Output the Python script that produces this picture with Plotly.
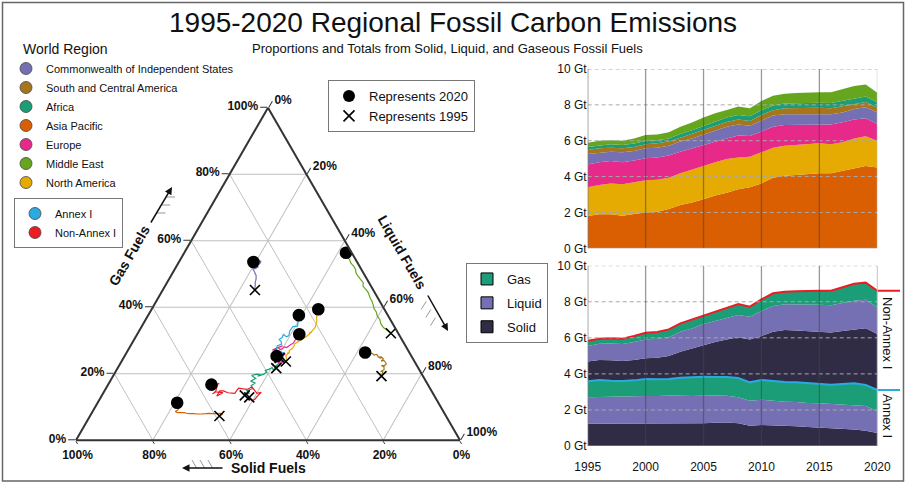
import numpy as np
import plotly.graph_objects as go

W, H = 906, 486
years = list(range(1995, 2021))

# ---- Regional fossil carbon emissions (GtC / yr), stacked bottom to top ----
asia_pacific = [1.80, 1.90, 1.90, 1.82, 1.91, 2.00, 2.04, 2.19, 2.42, 2.55, 2.73, 2.94, 3.10,
                3.29, 3.40, 3.62, 3.94, 4.05, 4.09, 4.14, 4.18, 4.18, 4.31, 4.46, 4.59, 4.50]
north_america = [1.60, 1.63, 1.71, 1.75, 1.77, 1.79, 1.79, 1.75, 1.76, 1.82, 1.86, 1.86, 1.88,
                 1.78, 1.71, 1.73, 1.67, 1.67, 1.67, 1.70, 1.68, 1.62, 1.60, 1.67, 1.66, 1.50]
europe = [1.28, 1.27, 1.26, 1.23, 1.21, 1.23, 1.23, 1.23, 1.21, 1.21, 1.17, 1.18, 1.15,
          1.22, 1.15, 1.16, 1.17, 1.16, 1.12, 1.07, 1.05, 1.11, 1.12, 1.06, 1.00, 0.93]
cis = [0.58, 0.53, 0.52, 0.55, 0.54, 0.56, 0.55, 0.55, 0.56, 0.55, 0.60, 0.60, 0.65,
       0.61, 0.58, 0.61, 0.62, 0.59, 0.59, 0.58, 0.58, 0.56, 0.55, 0.58, 0.61, 0.65]
south_central_america = [0.22, 0.25, 0.22, 0.23, 0.22, 0.22, 0.25, 0.23, 0.22, 0.25, 0.24, 0.24, 0.26,
                         0.28, 0.26, 0.31, 0.30, 0.34, 0.36, 0.35, 0.35, 0.34, 0.34, 0.30, 0.30, 0.26]
africa = [0.17, 0.16, 0.19, 0.18, 0.19, 0.18, 0.16, 0.18, 0.21, 0.20, 0.22, 0.22, 0.25,
          0.26, 0.26, 0.27, 0.26, 0.26, 0.26, 0.28, 0.28, 0.29, 0.30, 0.29, 0.30, 0.30]
middle_east = [0.24, 0.26, 0.22, 0.24, 0.29, 0.34, 0.32, 0.34, 0.40, 0.43, 0.47, 0.49, 0.42,
               0.47, 0.45, 0.52, 0.55, 0.55, 0.57, 0.58, 0.58, 0.60, 0.66, 0.69, 0.67, 0.54]

# ---- Annex I / Non-Annex I emissions by fuel (GtC / yr) ----
annex_solid = [1.24, 1.24, 1.22, 1.22, 1.22, 1.26, 1.24, 1.24, 1.26, 1.26, 1.26, 1.29, 1.31,
               1.26, 1.13, 1.16, 1.15, 1.11, 1.09, 1.05, 1.02, 0.98, 0.96, 0.92, 0.85, 0.72]
annex_liquid = [1.46, 1.48, 1.50, 1.50, 1.52, 1.51, 1.53, 1.53, 1.55, 1.57, 1.57, 1.52, 1.48,
                1.44, 1.38, 1.41, 1.36, 1.35, 1.35, 1.33, 1.35, 1.35, 1.35, 1.37, 1.37, 1.22]
annex_gas = [0.89, 0.94, 0.90, 0.88, 0.90, 0.95, 0.93, 0.95, 0.98, 1.00, 1.01, 1.02, 1.04,
             1.07, 1.02, 1.09, 1.09, 1.09, 1.09, 1.11, 1.07, 1.07, 1.13, 1.19, 1.16, 1.17]
nonannex_solid = [1.09, 1.11, 1.13, 1.11, 1.13, 1.14, 1.20, 1.27, 1.44, 1.59, 1.76, 1.94, 2.08,
                  2.26, 2.38, 2.44, 2.74, 2.88, 2.87, 2.89, 2.90, 2.90, 2.94, 2.99, 3.15, 3.10]
nonannex_liquid = [0.87, 0.90, 0.94, 0.95, 1.00, 1.05, 1.05, 1.04, 1.11, 1.10, 1.17, 1.18, 1.19,
                   1.23, 1.26, 1.39, 1.42, 1.43, 1.46, 1.48, 1.50, 1.50, 1.53, 1.59, 1.58, 1.48]
nonannex_gas = [0.29, 0.28, 0.28, 0.29, 0.33, 0.37, 0.37, 0.44, 0.46, 0.50, 0.48, 0.52, 0.57,
                0.61, 0.56, 0.64, 0.71, 0.70, 0.72, 0.75, 0.77, 0.81, 0.91, 0.94, 0.95, 0.92]

# ---- Regional fuel shares (% gas, % liquid; solid is the remainder) ----
share_gas = {
    "Commonwealth of Independent States": [45.2, 46.0, 46.8, 47.5, 48.0, 48.6, 49.2, 49.6, 50.1, 50.5, 50.9, 51.2, 51.5,
                                           51.6, 52.2, 52.4, 52.7, 52.9, 53.3, 53.6, 53.9, 53.5, 53.8, 54.0, 53.8, 53.6],
    "South and Central America": [19.3, 20.0, 20.8, 20.6, 21.3, 22.0, 22.5, 22.4, 23.0, 23.4, 24.0, 23.8, 24.5,
                                  24.9, 24.6, 25.1, 25.0, 25.4, 25.8, 25.6, 25.9, 26.1, 25.9, 26.2, 26.5, 26.4],
    "Africa": [13.5, 14.2, 14.9, 15.5, 16.4, 17.2, 17.8, 18.6, 19.5, 19.9, 19.6, 19.3, 19.8,
               20.5, 21.0, 21.4, 21.8, 21.2, 22.3, 22.0, 23.3, 23.8, 24.0, 24.6, 25.0, 25.3],
    "Asia Pacific": [7.3, 7.6, 7.9, 8.1, 8.0, 8.0, 8.1, 8.0, 7.9, 7.9, 8.0, 8.0, 8.1,
                     8.2, 8.3, 8.3, 8.3, 8.4, 8.5, 8.7, 9.0, 9.4, 9.8, 10.3, 10.9, 11.3],
    "Europe": [21.7, 22.5, 23.8, 23.4, 24.2, 24.9, 25.3, 25.9, 26.0, 26.4, 27.0, 27.4, 27.1,
               27.8, 28.4, 27.9, 27.3, 27.6, 28.1, 27.9, 28.4, 28.9, 29.1, 29.6, 30.9, 31.9],
    "Middle East": [32.2, 33.0, 33.9, 35.0, 36.4, 37.3, 37.9, 38.6, 39.6, 40.5, 41.9, 42.8, 44.4,
                    45.2, 46.3, 47.4, 48.3, 49.6, 50.4, 51.4, 52.3, 53.3, 54.3, 55.1, 55.8, 56.4],
    "North America": [23.7, 24.4, 24.9, 25.3, 26.0, 26.4, 26.0, 26.6, 27.0, 27.3, 27.6, 28.4, 28.9,
                      29.4, 30.1, 30.4, 31.2, 32.6, 32.2, 32.6, 34.0, 35.2, 35.6, 36.9, 38.1, 39.4],
}
share_liquid = {
    "Commonwealth of Independent States": [24.0, 23.6, 23.3, 22.9, 22.8, 22.6, 22.3, 22.1, 21.6, 21.3, 20.9, 20.6, 20.3,
                                           20.9, 21.4, 20.8, 20.3, 21.1, 21.3, 20.7, 20.9, 21.4, 21.2, 20.4, 19.8, 19.4],
    "South and Central America": [69.9, 69.8, 69.5, 69.0, 69.6, 69.2, 68.3, 69.1, 69.3, 68.9, 68.2, 67.6, 67.8,
                                  67.2, 66.8, 67.0, 66.2, 65.9, 65.4, 64.8, 64.5, 64.0, 63.5, 63.0, 62.6, 62.1],
    "Africa": [37.2, 38.0, 37.0, 38.2, 37.4, 38.1, 36.6, 37.5, 36.0, 37.2, 38.5, 37.6, 38.9,
               39.4, 38.8, 39.6, 40.2, 40.8, 41.5, 40.6, 41.4, 41.0, 40.3, 40.9, 40.2, 39.6],
    "Asia Pacific": [33.7, 34.0, 34.3, 33.6, 32.4, 31.5, 30.6, 29.8, 28.7, 27.6, 26.6, 25.8, 25.0,
                     24.4, 24.2, 23.5, 22.6, 22.1, 21.8, 21.6, 21.9, 22.0, 21.5, 21.2, 21.1, 20.7],
    "Europe": [41.3, 41.8, 42.1, 41.0, 40.6, 40.7, 41.2, 41.5, 40.6, 39.5, 38.9, 38.4, 37.6,
               38.5, 39.6, 38.7, 39.5, 40.0, 40.3, 40.9, 41.3, 41.6, 41.9, 42.0, 42.0, 42.2],
    "Middle East": [65.9, 64.6, 63.1, 61.9, 60.9, 59.8, 59.4, 58.9, 57.8, 57.2, 56.1, 55.2, 53.9,
                    53.0, 51.6, 51.1, 50.0, 48.5, 47.7, 47.1, 46.2, 44.9, 44.1, 43.2, 42.5, 42.1],
    "North America": [42.8, 42.6, 42.3, 42.0, 42.1, 42.0, 42.4, 42.3, 42.0, 42.3, 42.5, 42.6, 42.4,
                      42.8, 43.4, 43.6, 44.4, 45.1, 44.6, 45.0, 45.3, 45.0, 44.9, 44.2, 43.8, 43.4],
}

region_colors = {
    "Commonwealth of Independent States": "#7570B3",
    "South and Central America": "#A6761D",
    "Africa": "#1B9E77",
    "Asia Pacific": "#D95F02",
    "Europe": "#E7298A",
    "Middle East": "#66A61E",
    "North America": "#E6AB02",
}
ANNEX_COLOR = "#29ABE2"
NONANNEX_COLOR = "#ED1C24"
GAS_COLOR, LIQUID_COLOR, SOLID_COLOR = "#1B9E77", "#7570B3", "#302C45"
FONT = "Liberation Sans, Arial, sans-serif"
gt_ticks = [0, 2, 4, 6, 8, 10]
year_ticks = [1995, 2000, 2005, 2010, 2015, 2020]


def px(x):
    return x / W


def py(y):
    return 1 - y / H


fig = go.Figure()

# ---------------- ternary: fuel mix trajectories ----------------
for name in region_colors:
    fig.add_trace(go.Scatterternary(
        a=share_gas[name], c=share_liquid[name], mode="lines",
        line=dict(color=region_colors[name], width=1.2), showlegend=False, hoverinfo="skip"))

fig.add_trace(go.Scatterternary(
    a=annex_gas, b=annex_solid, c=annex_liquid, mode="lines",
    line=dict(color=ANNEX_COLOR, width=1.2), showlegend=False, hoverinfo="skip"))
fig.add_trace(go.Scatterternary(
    a=nonannex_gas, b=nonannex_solid, c=nonannex_liquid, mode="lines",
    line=dict(color=NONANNEX_COLOR, width=1.2), showlegend=False, hoverinfo="skip"))

end_marks = dict(symbol=["x-thin", "circle"], size=[10, 11], color="black", opacity=1,
                 line=dict(color="black", width=1.6))
for name in region_colors:
    g, c = share_gas[name], share_liquid[name]
    fig.add_trace(go.Scatterternary(a=[g[0], g[-1]], c=[c[0], c[-1]], mode="markers",
                                    marker=end_marks, showlegend=False, hoverinfo="skip"))
for g, s, c in [(annex_gas, annex_solid, annex_liquid),
                (nonannex_gas, nonannex_solid, nonannex_liquid)]:
    fig.add_trace(go.Scatterternary(a=[g[0], g[-1]], b=[s[0], s[-1]], c=[c[0], c[-1]],
                                    mode="markers", marker=end_marks, showlegend=False,
                                    hoverinfo="skip"))

# legend entries: world regions, annex groups, year markers
for name, col in region_colors.items():
    fig.add_trace(go.Scatterternary(a=[None], b=[None], c=[None], mode="markers", name=name,
                                    marker=dict(color=col, size=12, line=dict(color="#444", width=0.8)),
                                    legend="legend"))
for name, col in [("Annex I", ANNEX_COLOR), ("Non-Annex I", NONANNEX_COLOR)]:
    fig.add_trace(go.Scatterternary(a=[None], b=[None], c=[None], mode="markers", name=name,
                                    marker=dict(color=col, size=12, line=dict(color="#444", width=0.8)),
                                    legend="legend2"))
fig.add_trace(go.Scatterternary(a=[None], b=[None], c=[None], mode="markers", name="Represents 2020",
                                marker=dict(symbol="circle", size=12, color="black"), legend="legend3"))
fig.add_trace(go.Scatterternary(a=[None], b=[None], c=[None], mode="markers", name="Represents 1995",
                                marker=dict(symbol="x-thin", size=11, color="black",
                                            line=dict(color="black", width=1.6)), legend="legend3"))

# ---------------- top right: regional totals ----------------
stack_order = [("Asia Pacific", asia_pacific), ("North America", north_america), ("Europe", europe),
               ("Commonwealth of Independent States", cis),
               ("South and Central America", south_central_america),
               ("Africa", africa), ("Middle East", middle_east)]
for name, vals in stack_order:
    fig.add_trace(go.Scatter(x=years, y=vals, stackgroup="regions", mode="lines",
                             line=dict(width=0, color=region_colors[name]),
                             fillcolor=region_colors[name], showlegend=False, hoverinfo="skip",
                             xaxis="x", yaxis="y"))

# ---------------- bottom right: Annex I / Non-Annex I by fuel ----------------
for vals, col in [(annex_solid, SOLID_COLOR), (annex_liquid, LIQUID_COLOR), (annex_gas, GAS_COLOR),
                  (nonannex_solid, SOLID_COLOR), (nonannex_liquid, LIQUID_COLOR),
                  (nonannex_gas, GAS_COLOR)]:
    fig.add_trace(go.Scatter(x=years, y=vals, stackgroup="annex", mode="lines",
                             line=dict(width=0, color=col), fillcolor=col, showlegend=False,
                             hoverinfo="skip", xaxis="x2", yaxis="y2"))

lead_end = 2021.96  # leader lines run past 2020 to the group labels
annex_total = list(np.add(np.add(annex_solid, annex_liquid), annex_gas))
world_total = list(np.add(annex_total, np.add(np.add(nonannex_solid, nonannex_liquid), nonannex_gas)))
fig.add_trace(go.Scatter(x=years + [lead_end], y=annex_total + [annex_total[-1]], mode="lines",
                         line=dict(color=ANNEX_COLOR, width=2), showlegend=False, hoverinfo="skip",
                         xaxis="x2", yaxis="y2"))
fig.add_trace(go.Scatter(x=years + [lead_end], y=world_total + [world_total[-1]], mode="lines",
                         line=dict(color=NONANNEX_COLOR, width=2), showlegend=False, hoverinfo="skip",
                         xaxis="x2", yaxis="y2"))

for name, col in [("Gas", GAS_COLOR), ("Liquid", LIQUID_COLOR), ("Solid", SOLID_COLOR)]:
    fig.add_trace(go.Scatter(x=[None], y=[None], mode="markers", name=name, legend="legend4",
                             legendgroup=name,
                             marker=dict(symbol="square", size=12, color=col,
                                         line=dict(color="black", width=1)),
                             xaxis="x2", yaxis="y2"))

# ---------------- grid and frame drawn over the filled areas ----------------
shapes = []
for xr, yr in [("x", "y"), ("x2", "y2")]:
    for gv in gt_ticks[1:]:
        shapes.append(dict(type="line", xref=xr, yref=yr, x0=1995, x1=2020, y0=gv, y1=gv,
                           line=dict(color="#a8a8a8", width=1, dash="4px,3px"), layer="above"))
    for yv in year_ticks[1:-1]:
        shapes.append(dict(type="line", xref=xr, yref=yr, x0=yv, x1=yv, y0=0, y1=10,
                           line=dict(color="rgba(70,70,70,0.55)", width=1.3), layer="above"))
    shapes.append(dict(type="line", xref=xr, yref=yr, x0=2020, x1=2020, y0=0, y1=10,
                       line=dict(color="#c4c4c4", width=1), layer="above"))
    shapes.append(dict(type="line", xref=xr, yref=yr, x0=1995, x1=1995, y0=0, y1=10,
                       line=dict(color="#777", width=1.3), layer="above"))
    shapes.append(dict(type="line", xref=xr, yref=yr, x0=1995, x1=2020, y0=0, y1=0,
                       line=dict(color="#999", width=1.2), layer="above"))

# outer frame
shapes.append(dict(type="rect", xref="paper", yref="paper", x0=px(2.5), x1=px(903.5),
                   y0=py(481), y1=py(2.5), line=dict(color="#666", width=1.5)))

# hatch marks beside the ternary axis arrows
for y0 in [197, 205, 213]:
    xs = 172 - (y0 - 187) * 22 / 37
    shapes.append(dict(type="line", xref="paper", yref="paper", x0=px(xs), x1=px(xs + 9),
                       y0=py(y0), y1=py(y0), line=dict(color="#999", width=1)))
for t in [0.2, 0.42, 0.64]:
    xa, ya = 427 + 21 * t, 294 + 37 * t
    shapes.append(dict(type="line", xref="paper", yref="paper", x0=px(xa - 10), x1=px(xa - 5),
                       y0=py(ya + 8), y1=py(ya), line=dict(color="#999", width=1)))
SOLID_Y = 468
for xa in [192, 200, 208]:
    shapes.append(dict(type="line", xref="paper", yref="paper", x0=px(xa), x1=px(xa + 4.5),
                       y0=py(SOLID_Y - 8), y1=py(SOLID_Y), line=dict(color="#999", width=1)))


def label(text, x, y, size, angle=0, bold=False, xanchor="center"):
    font = dict(family=FONT, size=size, color="#111")
    if bold:
        font["weight"] = "bold"
    return dict(text=text, x=px(x), y=py(y), xref="paper", yref="paper", showarrow=False,
                xanchor=xanchor, yanchor="middle", textangle=angle, font=font)


def arrow(x, y, ax, ay):
    return dict(text="", x=px(x), y=py(y), xref="paper", yref="paper", showarrow=True, ax=ax,
                ay=ay, arrowhead=2, arrowsize=1, arrowwidth=1.5, arrowcolor="#111")


annotations = [
    label("1995-2020 Regional Fossil Carbon Emissions", 453, 23, 28),
    label("Proportions and Totals from Solid, Liquid, and Gaseous Fossil Fuels", 447, 48, 13),
    label("World Region", 21, 49, 14, xanchor="left"),
    label("Gas Fuels", 129, 256, 14, -60, True),
    label("Liquid Fuels", 402, 252, 14, 60, True),
    label("Solid Fuels", 268, SOLID_Y, 14, 0, True),
    arrow(172, 187, -22, 37),
    arrow(448, 331, -21, -37),
    arrow(182, SOLID_Y, 42, 0),
    label("Non-Annex I", 888, 333, 13, 90),
    label("Annex I", 888, 416, 13, 90),
]

tern_axis = dict(title=dict(text=""), dtick=20, tick0=0, ticksuffix="%", ticks="outside",
                 ticklen=7, tickcolor="#333", linecolor="#333", linewidth=2, gridcolor="#c0c0c0",
                 gridwidth=1, showgrid=True,
                 tickfont=dict(family=FONT, size=12, color="#111", weight="bold"))
tern_baxis = dict(tern_axis, ticklen=3)

gt_axis = dict(range=[0, 10], tickvals=gt_ticks, ticktext=[f"{v} Gt" for v in gt_ticks],
               showgrid=False, zeroline=False, showline=False, ticks="", automargin=False,
               tickfont=dict(family=FONT, size=12, color="#111"))

legend_common = dict(xanchor="left", yanchor="top", itemsizing="trace", traceorder="normal")

fig.update_layout(
    width=W, height=H, margin=dict(l=0, r=0, t=0, b=0, autoexpand=False),
    paper_bgcolor="white", plot_bgcolor="white",
    font=dict(family=FONT, color="#111"),
    ternary=dict(sum=100, bgcolor="white",
                 domain=dict(x=[px(76), px(460)], y=[py(441), py(107)]),
                 aaxis=tern_axis, baxis=tern_baxis, caxis=tern_axis),
    xaxis=dict(domain=[px(587.7), px(877.3)], range=[1995, 2020], showticklabels=False,
               showgrid=False, zeroline=False, anchor="y", automargin=False),
    yaxis=dict(domain=[py(248.3), py(69)], anchor="x", **gt_axis),
    xaxis2=dict(domain=[px(587.7), px(900)], range=[1995, lead_end], tickvals=year_ticks,
                showgrid=False, zeroline=False, anchor="y2", ticks="outside", ticklen=10,
                tickcolor="rgba(0,0,0,0)", automargin=False,
                tickfont=dict(family=FONT, size=12, color="#111")),
    yaxis2=dict(domain=[py(446), py(265.7)], anchor="x2", **gt_axis),
    legend=dict(x=px(6), y=py(54), **legend_common,
                font=dict(family=FONT, size=11, color="#111"), bgcolor="rgba(0,0,0,0)"),
    legend2=dict(x=px(14), y=py(198), **legend_common,
                 font=dict(family=FONT, size=11, color="#111"), bgcolor="white",
                 bordercolor="#777", borderwidth=1),
    legend3=dict(x=px(328), y=py(80), **legend_common,
                 font=dict(family=FONT, size=13, color="#111"), bgcolor="white",
                 bordercolor="#777", borderwidth=1),
    legend4=dict(x=px(466), y=py(263), xanchor="left", yanchor="top", itemsizing="trace",
                 traceorder="grouped", tracegroupgap=4,
                 font=dict(family=FONT, size=13, color="#111"), bgcolor="white",
                 bordercolor="#777", borderwidth=1),
    shapes=shapes, annotations=annotations,
)

fig.write_html("out.html")
